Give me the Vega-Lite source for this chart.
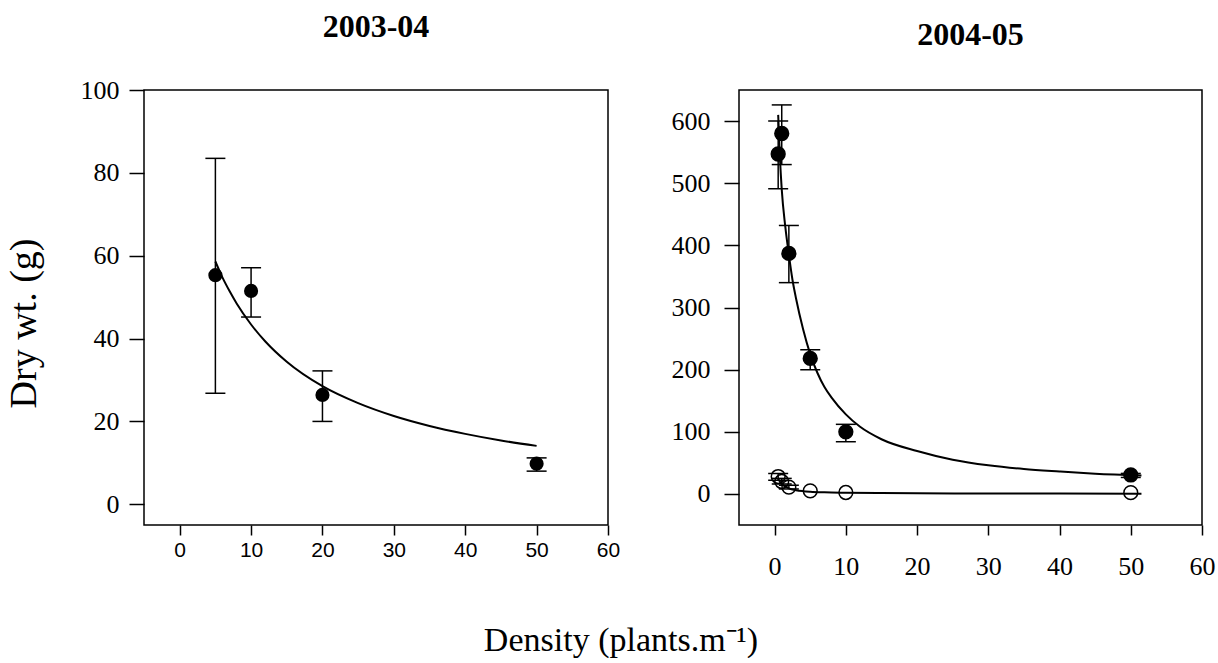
{
  "$schema": "https://vega.github.io/schema/vega-lite/v6.json",
  "background": "white",
  "padding": {"left": 4, "top": 10, "right": 0, "bottom": 0},
  "bounds": "flush",
  "spacing": 131,
  "title": {
    "text": "Density (plants.m⁻¹)",
    "orient": "bottom",
    "anchor": "middle",
    "offset": 44,
    "dx": 11,
    "font": "Liberation Serif",
    "fontSize": 34,
    "fontWeight": "normal",
    "color": "black"
  },
  "config": {
    "view": {"stroke": "black", "strokeWidth": 1.5},
    "axis": {
      "grid": false,
      "domain": false,
      "tickColor": "black",
      "tickWidth": 1.5,
      "labelColor": "black",
      "labelFlush": false,
      "labelOverlap": false,
      "labelBound": false
    }
  },
  "datasets": {
    "p1": [
      {"density": 5, "mean": 55.3, "lo": 26.8, "hi": 83.5},
      {"density": 10, "mean": 51.5, "lo": 45.2, "hi": 57.1},
      {"density": 20, "mean": 26.4, "lo": 20.0, "hi": 32.2},
      {"density": 50, "mean": 9.8, "lo": 8.0, "hi": 11.2}
    ],
    "c1": [
      {"density": 5, "value": 58.6},
      {"density": 6, "value": 54.7},
      {"density": 7, "value": 51.4},
      {"density": 8, "value": 48.4},
      {"density": 10, "value": 43.4},
      {"density": 12, "value": 39.3},
      {"density": 15, "value": 34.4},
      {"density": 20, "value": 28.5},
      {"density": 25, "value": 24.4},
      {"density": 30, "value": 21.3},
      {"density": 35, "value": 18.9},
      {"density": 40, "value": 17.0},
      {"density": 45, "value": 15.4},
      {"density": 50, "value": 14.1}
    ],
    "p2": [
      {"density": 0.5, "mean": 547, "lo": 491, "hi": 600, "group": "filled"},
      {"density": 1, "mean": 580, "lo": 530, "hi": 626, "group": "filled"},
      {"density": 2, "mean": 387, "lo": 340, "hi": 432, "group": "filled"},
      {"density": 5, "mean": 218, "lo": 200, "hi": 232, "group": "filled"},
      {"density": 10, "mean": 100, "lo": 84, "hi": 112, "group": "filled"},
      {"density": 50, "mean": 30.5, "lo": 26.5, "hi": 33, "group": "filled"},
      {"density": 0.5, "mean": 28, "lo": 22, "hi": 33, "group": "open"},
      {"density": 1, "mean": 20, "lo": 16, "hi": 25, "group": "open"},
      {"density": 2, "mean": 11, "lo": 8, "hi": 14, "group": "open"},
      {"density": 5, "mean": 5, "lo": null, "hi": null, "group": "open"},
      {"density": 10, "mean": 2.3, "lo": null, "hi": null, "group": "open"},
      {"density": 50, "mean": 2, "lo": null, "hi": null, "group": "open"}
    ],
    "c2": [
      {"density": 0.5, "value": 610, "group": "filled"},
      {"density": 0.75, "value": 540, "group": "filled"},
      {"density": 1, "value": 490, "group": "filled"},
      {"density": 1.5, "value": 430, "group": "filled"},
      {"density": 2, "value": 385, "group": "filled"},
      {"density": 2.5, "value": 345, "group": "filled"},
      {"density": 3, "value": 315, "group": "filled"},
      {"density": 4, "value": 265, "group": "filled"},
      {"density": 5, "value": 225, "group": "filled"},
      {"density": 6, "value": 195, "group": "filled"},
      {"density": 7, "value": 172, "group": "filled"},
      {"density": 8, "value": 155, "group": "filled"},
      {"density": 10, "value": 128, "group": "filled"},
      {"density": 12, "value": 108, "group": "filled"},
      {"density": 15, "value": 88, "group": "filled"},
      {"density": 20, "value": 69, "group": "filled"},
      {"density": 25, "value": 55, "group": "filled"},
      {"density": 30, "value": 46, "group": "filled"},
      {"density": 35, "value": 40, "group": "filled"},
      {"density": 40, "value": 36, "group": "filled"},
      {"density": 45, "value": 32.5, "group": "filled"},
      {"density": 51.5, "value": 29.5, "group": "filled"},
      {"density": 0.5, "value": 24, "group": "open"},
      {"density": 1, "value": 16, "group": "open"},
      {"density": 1.5, "value": 12, "group": "open"},
      {"density": 2, "value": 9, "group": "open"},
      {"density": 3, "value": 6, "group": "open"},
      {"density": 4, "value": 4.5, "group": "open"},
      {"density": 5, "value": 3.6, "group": "open"},
      {"density": 7, "value": 2.6, "group": "open"},
      {"density": 10, "value": 1.9, "group": "open"},
      {"density": 15, "value": 1.3, "group": "open"},
      {"density": 20, "value": 1, "group": "open"},
      {"density": 30, "value": 0.7, "group": "open"},
      {"density": 40, "value": 0.5, "group": "open"},
      {"density": 51.5, "value": 0.4, "group": "open"}
    ]
  },
  "hconcat": [
    {
      "width": 464,
      "height": 435,
      "title": {"text": "2003-04", "font": "Liberation Serif", "fontSize": 32, "fontWeight": "bold", "color": "black", "anchor": "middle", "baseline": "alphabetic", "frame": "group", "offset": 8},
      "layer": [
        {
          "data": {"name": "c1"},
          "mark": {"type": "line", "color": "black", "strokeWidth": 2, "interpolate": "monotone"},
          "encoding": {
            "x": {"field": "density", "type": "quantitative", "scale": {"domain": [-5, 60], "nice": false, "zero": false},
              "axis": {"title": null, "values": [0, 10, 20, 30, 40, 50, 60], "tickSize": 10, "labelFont": "Liberation Sans", "labelFontSize": 21, "labelPadding": 4}},
            "y": {"field": "value", "type": "quantitative", "scale": {"domain": [-5, 100], "nice": false, "zero": false},
              "axis": {"title": "Dry wt. (g)", "values": [0, 20, 40, 60, 80, 100], "tickSize": 15, "labelFont": "Liberation Serif", "labelFontSize": 26, "labelPadding": 10,
                "titleFont": "Liberation Serif", "titleFontSize": 38, "titleFontWeight": "normal", "titleColor": "black", "titleX": -120, "titleY": 233, "titleAngle": 270, "titleBaseline": "middle", "titleAlign": "center"}}
          }
        },
        {
          "data": {"name": "p1"},
          "mark": {"type": "rule", "color": "black", "strokeWidth": 1.5},
          "encoding": {
            "x": {"field": "density", "type": "quantitative"},
            "y": {"field": "lo", "type": "quantitative"},
            "y2": {"field": "hi"}
          }
        },
        {
          "data": {"name": "p1"},
          "mark": {"type": "tick", "orient": "horizontal", "color": "black", "size": 20, "thickness": 1.5, "opacity": 1},
          "encoding": {
            "x": {"field": "density", "type": "quantitative"},
            "y": {"field": "lo", "type": "quantitative"}
          }
        },
        {
          "data": {"name": "p1"},
          "mark": {"type": "tick", "orient": "horizontal", "color": "black", "size": 20, "thickness": 1.5, "opacity": 1},
          "encoding": {
            "x": {"field": "density", "type": "quantitative"},
            "y": {"field": "hi", "type": "quantitative"}
          }
        },
        {
          "data": {"name": "p1"},
          "mark": {"type": "point", "filled": true, "color": "black", "size": 200, "opacity": 1},
          "encoding": {
            "x": {"field": "density", "type": "quantitative"},
            "y": {"field": "mean", "type": "quantitative"}
          }
        }
      ]
    },
    {
      "width": 463,
      "height": 435,
      "title": {"text": "2004-05", "font": "Liberation Serif", "fontSize": 32, "fontWeight": "bold", "color": "black", "anchor": "middle", "baseline": "alphabetic", "frame": "group", "offset": 13},
      "layer": [
        {
          "data": {"name": "c2"},
          "mark": {"type": "line", "color": "black", "strokeWidth": 2, "interpolate": "monotone"},
          "encoding": {
            "x": {"field": "density", "type": "quantitative", "scale": {"domain": [-5, 60], "nice": false, "zero": false},
              "axis": {"title": null, "values": [0, 10, 20, 30, 40, 50, 60], "tickSize": 10, "labelFont": "Liberation Serif", "labelFontSize": 26, "labelPadding": 18}},
            "y": {"field": "value", "type": "quantitative", "scale": {"domain": [-50, 650], "nice": false, "zero": false},
              "axis": {"title": null, "values": [0, 100, 200, 300, 400, 500, 600], "tickSize": 15, "labelFont": "Liberation Serif", "labelFontSize": 26, "labelPadding": 14}},
            "detail": {"field": "group", "type": "nominal"}
          }
        },
        {
          "data": {"name": "p2"},
          "mark": {"type": "rule", "color": "black", "strokeWidth": 1.5},
          "encoding": {
            "x": {"field": "density", "type": "quantitative"},
            "y": {"field": "lo", "type": "quantitative"},
            "y2": {"field": "hi"}
          }
        },
        {
          "data": {"name": "p2"},
          "mark": {"type": "tick", "orient": "horizontal", "color": "black", "size": 20, "thickness": 1.5, "opacity": 1},
          "encoding": {
            "x": {"field": "density", "type": "quantitative"},
            "y": {"field": "lo", "type": "quantitative"}
          }
        },
        {
          "data": {"name": "p2"},
          "mark": {"type": "tick", "orient": "horizontal", "color": "black", "size": 20, "thickness": 1.5, "opacity": 1},
          "encoding": {
            "x": {"field": "density", "type": "quantitative"},
            "y": {"field": "hi", "type": "quantitative"}
          }
        },
        {
          "data": {"name": "p2"},
          "mark": {"type": "point", "stroke": "black", "strokeWidth": 1.5, "size": 190, "opacity": 1, "strokeOpacity": 1, "fillOpacity": 1},
          "encoding": {
            "x": {"field": "density", "type": "quantitative"},
            "y": {"field": "mean", "type": "quantitative"},
            "fill": {"field": "group", "type": "nominal", "scale": {"domain": ["filled", "open"], "range": ["black", "transparent"]}, "legend": null}
          }
        }
      ]
    }
  ]
}
